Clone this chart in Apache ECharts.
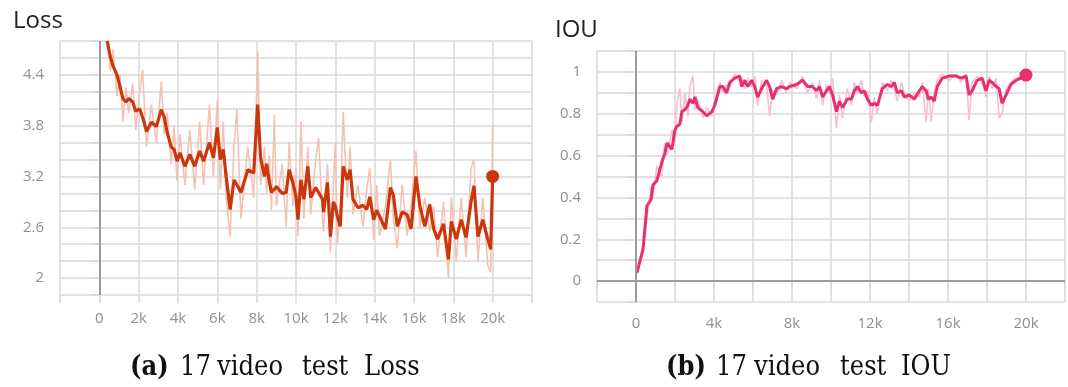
<!DOCTYPE html>
<html>
<head>
<meta charset="utf-8">
<script src="https://cdn.jsdelivr.net/npm/echarts@6/dist/echarts.min.js"></script>
<style>
  html, body { margin: 0; padding: 0; background: #fff; }
  #chart { width: 1068px; height: 387px; }
</style>
</head>
<body>
<div id="chart"></div>
<script>
// Loss curve: training steps, smoothed value and raw value
const lossSteps = [400, 550, 700, 900, 1050, 1200, 1350, 1500, 1700, 1850, 2050, 2200, 2400, 2650, 2900, 3150, 3300, 3450, 3650, 3800, 3950, 4100, 4350, 4600, 4850, 5100, 5300, 5600, 5800, 6000, 6150, 6300, 6450, 6650, 6850, 7000, 7200, 7550, 7850, 8050, 8200, 8400, 8500, 8650, 8750, 8900, 9000, 9300, 9500, 9650, 9850, 10000, 10100, 10250, 10400, 10600, 10750, 11000, 11150, 11350, 11400, 11600, 11750, 11900, 12000, 12100, 12250, 12400, 12600, 12750, 12900, 13150, 13400, 13600, 13750, 13950, 14100, 14250, 14550, 14800, 14950, 15150, 15400, 15650, 15850, 16100, 16300, 16550, 16800, 17000, 17200, 17500, 17750, 17900, 18150, 18400, 18650, 18900, 19050, 19250, 19500, 19750, 19900, 20000];
const lossSmooth = [4.80, 4.62, 4.50, 4.40, 4.26, 4.12, 4.08, 4.12, 4.08, 3.97, 4.00, 3.90, 3.73, 3.84, 3.79, 3.99, 3.90, 3.72, 3.55, 3.52, 3.38, 3.48, 3.32, 3.46, 3.32, 3.50, 3.38, 3.60, 3.42, 3.78, 3.40, 3.52, 3.20, 2.81, 3.16, 3.10, 3.01, 3.28, 3.24, 4.05, 3.42, 3.20, 3.35, 3.13, 3.01, 3.05, 3.08, 3.00, 3.01, 3.28, 3.12, 2.96, 2.69, 3.16, 2.93, 3.32, 2.95, 3.07, 3.01, 2.93, 2.78, 3.13, 2.49, 2.90, 2.85, 2.73, 2.61, 3.32, 3.16, 3.28, 2.93, 2.83, 2.86, 2.81, 2.96, 2.69, 2.80, 2.73, 2.58, 3.07, 2.98, 2.61, 2.78, 2.75, 2.58, 3.20, 2.85, 2.61, 2.87, 2.58, 2.46, 2.64, 2.22, 2.67, 2.46, 2.69, 2.48, 2.90, 3.09, 2.49, 2.69, 2.46, 2.34, 3.20];
const lossRaw = [5.00, 4.45, 4.70, 4.15, 4.40, 3.85, 4.25, 3.95, 4.30, 3.75, 4.20, 4.46, 3.55, 4.05, 3.60, 4.32, 3.70, 3.95, 3.35, 3.80, 3.15, 3.70, 3.10, 3.75, 3.05, 3.85, 3.10, 4.05, 3.20, 4.10, 3.05, 3.85, 2.95, 2.49, 3.55, 4.00, 2.70, 3.55, 2.95, 4.68, 3.10, 3.55, 3.00, 3.45, 2.80, 3.93, 2.85, 3.35, 2.60, 3.60, 2.85, 3.30, 2.50, 3.85, 2.70, 3.55, 2.75, 3.40, 3.65, 2.70, 2.55, 3.35, 2.30, 3.10, 3.60, 2.40, 2.80, 3.96, 2.95, 3.55, 2.75, 3.10, 2.60, 3.05, 3.30, 2.45, 3.10, 2.50, 2.85, 3.40, 2.70, 2.35, 3.10, 2.50, 2.85, 3.50, 2.60, 2.95, 2.55, 2.85, 2.25, 2.90, 2.00, 2.95, 2.20, 2.95, 2.25, 3.30, 3.40, 2.20, 2.95, 2.15, 2.07, 3.80];

// IOU curve: training steps, smoothed value and raw value
const iouSteps = [50, 360, 560, 770, 870, 1070, 1330, 1480, 1590, 1840, 1990, 2100, 2250, 2350, 2510, 2660, 2760, 2920, 3020, 3170, 3430, 3630, 3890, 4040, 4300, 4450, 4650, 4810, 5060, 5320, 5420, 5580, 5730, 5930, 6090, 6240, 6440, 6700, 6850, 7010, 7210, 7470, 7720, 7880, 8240, 8540, 8800, 9050, 9260, 9410, 9570, 9770, 9920, 10080, 10280, 10430, 10590, 10840, 11050, 11200, 11360, 11560, 11710, 11870, 12070, 12220, 12380, 12630, 12890, 13090, 13250, 13400, 13610, 13760, 14010, 14270, 14530, 14680, 14880, 14990, 15140, 15290, 15450, 15700, 16060, 16420, 16670, 16930, 17080, 17240, 17490, 17750, 17950, 18110, 18260, 18470, 18620, 18770, 18980, 19230, 19490, 19740, 20000];
const iouSmooth = [0.04, 0.15, 0.36, 0.39, 0.46, 0.48, 0.57, 0.61, 0.66, 0.63, 0.72, 0.74, 0.75, 0.81, 0.82, 0.84, 0.87, 0.85, 0.88, 0.83, 0.81, 0.79, 0.81, 0.84, 0.93, 0.93, 0.90, 0.95, 0.97, 0.98, 0.93, 0.96, 0.93, 0.96, 0.93, 0.88, 0.92, 0.96, 0.93, 0.87, 0.92, 0.93, 0.92, 0.93, 0.94, 0.96, 0.93, 0.93, 0.91, 0.93, 0.88, 0.91, 0.93, 0.89, 0.81, 0.86, 0.83, 0.87, 0.87, 0.91, 0.93, 0.90, 0.91, 0.87, 0.84, 0.85, 0.84, 0.92, 0.94, 0.93, 0.95, 0.90, 0.91, 0.88, 0.89, 0.87, 0.91, 0.93, 0.91, 0.87, 0.88, 0.86, 0.93, 0.97, 0.98, 0.98, 0.97, 0.98, 0.89, 0.91, 0.96, 0.97, 0.91, 0.96, 0.95, 0.93, 0.92, 0.85, 0.89, 0.94, 0.96, 0.97, 0.985];
const iouRaw = [0.03, 0.18, 0.30, 0.45, 0.40, 0.55, 0.50, 0.66, 0.60, 0.72, 0.66, 0.85, 0.92, 0.76, 0.90, 0.79, 0.93, 0.98, 0.82, 0.87, 0.78, 0.83, 0.79, 0.86, 0.95, 0.90, 0.94, 0.93, 0.99, 0.95, 0.97, 0.92, 0.97, 0.93, 0.98, 0.84, 0.96, 0.93, 0.79, 0.91, 0.89, 0.96, 0.90, 0.95, 0.92, 0.98, 0.90, 0.95, 0.87, 0.96, 0.84, 0.94, 0.90, 0.97, 0.73, 0.89, 0.78, 0.92, 0.84, 0.95, 0.90, 0.96, 0.88, 0.91, 0.76, 0.88, 0.80, 0.95, 0.91, 0.96, 0.92, 0.86, 0.95, 0.90, 0.86, 0.90, 0.88, 0.95, 0.76, 0.92, 0.76, 0.90, 0.96, 0.99, 0.96, 0.99, 0.95, 0.99, 0.77, 0.95, 0.98, 0.95, 0.88, 0.98, 0.92, 0.97, 0.78, 0.80, 0.92, 0.95, 0.97, 0.98, 0.99];

// Tick labels
const lossXLabels = ['0', '2k', '4k', '6k', '8k', '10k', '12k', '14k', '16k', '18k', '20k'];
const lossYLabels = ['2', '2.6', '3.2', '3.8', '4.4'];
const iouXLabels = ['0', '4k', '8k', '12k', '16k', '20k'];
const iouYLabels = ['0', '0.2', '0.4', '0.6', '0.8', '1'];

// Captions under each panel
const captionA = ['(a)', '17', 'video', 'test', 'Loss'];
const captionB = ['(b)', '17', 'video', 'test', 'IOU'];

const zip = (xs, ys) => xs.map((x, i) => [x, ys[i]]);
const stepText = v => (v === 0 ? '0' : (v / 1000) + 'k');
const numText = v => String(Math.round(v * 10) / 10);

const gridColor = '#d9d9d9';
const zeroColor = '#9c9c9c';
const labelColor = '#909090';
const uiFont = 'Open Sans';

function xAxisFor(gridIndex, labels, margin) {
  return {
    type: 'value', gridIndex, min: -2000, max: 22000, interval: 2000,
    axisLine: { show: false },
    axisTick: { show: true, length: 8, lineStyle: { color: gridColor, width: 1.5 } },
    splitLine: { show: true, lineStyle: { color: gridColor, width: 1.5 } },
    axisLabel: {
      color: labelColor, fontFamily: uiFont, fontSize: 15, margin,
      formatter: v => (labels.includes(stepText(v)) ? stepText(v) : '')
    }
  };
}

function yAxisFor(gridIndex, min, max, interval, labels) {
  return {
    type: 'value', gridIndex, min, max, interval,
    axisLine: { show: false },
    axisTick: { show: true, length: 8, lineStyle: { color: gridColor, width: 1.5 } },
    splitLine: { show: true, lineStyle: { color: gridColor, width: 1.5 } },
    axisLabel: {
      color: labelColor, fontFamily: uiFont, fontSize: 15, margin: 16,
      formatter: v => (labels.includes(numText(v)) ? numText(v) : '')
    }
  };
}

function captionWords(words, xs, y) {
  return words.map((w, i) => ({
    type: 'text', left: xs[i], top: y,
    style: {
      text: w, fill: '#111',
      font: (i === 0 ? '600 ' : '') + '27px "DejaVu Serif Condensed", "Liberation Serif", serif'
    }
  }));
}

const lossColor = '#cc360c';
const lossLight = '#f3c2b3';
const iouColor = '#e8316b';
const iouLight = '#f7bfd1';

const zeroLine = data => ({
  silent: true, symbol: 'none', animation: false,
  label: { show: false },
  lineStyle: { color: zeroColor, width: 2, type: 'solid' },
  data
});

const chart = echarts.init(document.getElementById('chart'), null, { renderer: 'canvas' });
chart.setOption({
  animation: false,
  backgroundColor: '#fff',
  title: [
    { text: 'Loss', left: 8, top: 4, textStyle: { fontFamily: uiFont, fontSize: 24, fontWeight: 'normal', color: '#222' } },
    { text: 'IOU', left: 550, top: 13, textStyle: { fontFamily: uiFont, fontSize: 24, fontWeight: 'normal', color: '#222' } }
  ],
  grid: [
    { left: 60, top: 41, width: 472, height: 254 },
    { left: 597, top: 51, width: 470, height: 251 }
  ],
  xAxis: [xAxisFor(0, lossXLabels, 16), xAxisFor(1, iouXLabels, 14)],
  yAxis: [
    yAxisFor(0, 1.8, 4.8, 0.2, lossYLabels),
    yAxisFor(1, -0.1, 1.1, 0.1, iouYLabels)
  ],
  series: [
    {
      name: 'loss raw', type: 'line', xAxisIndex: 0, yAxisIndex: 0,
      data: zip(lossSteps, lossRaw), showSymbol: false, silent: true, z: 2,
      lineStyle: { color: lossLight, width: 1.6 },
      markLine: zeroLine([{ xAxis: 0 }])
    },
    {
      name: 'loss', type: 'line', xAxisIndex: 0, yAxisIndex: 0,
      data: zip(lossSteps, lossSmooth), showSymbol: false, silent: true, z: 3,
      lineStyle: { color: lossColor, width: 3.2 }
    },
    {
      name: 'loss last', type: 'scatter', xAxisIndex: 0, yAxisIndex: 0,
      data: [[lossSteps[lossSteps.length - 1], lossSmooth[lossSmooth.length - 1]]],
      symbolSize: 13, itemStyle: { color: lossColor, opacity: 1 }, z: 4, silent: true
    },
    {
      name: 'iou raw', type: 'line', xAxisIndex: 1, yAxisIndex: 1,
      data: zip(iouSteps, iouRaw), showSymbol: false, silent: true, z: 2,
      lineStyle: { color: iouLight, width: 1.6 },
      markLine: zeroLine([{ xAxis: 0 }, { yAxis: 0 }])
    },
    {
      name: 'iou', type: 'line', xAxisIndex: 1, yAxisIndex: 1,
      data: zip(iouSteps, iouSmooth), showSymbol: false, silent: true, z: 3,
      lineStyle: { color: iouColor, width: 3 }
    },
    {
      name: 'iou last', type: 'scatter', xAxisIndex: 1, yAxisIndex: 1,
      data: [[iouSteps[iouSteps.length - 1], iouSmooth[iouSmooth.length - 1]]],
      symbolSize: 13, itemStyle: { color: iouColor, opacity: 1 }, z: 4, silent: true
    }
  ],
  graphic: [
    ...captionWords(captionA, [130, 180, 217, 302, 364], 354),
    ...captionWords(captionB, [666, 716, 754, 840, 901], 354)
  ]
});
</script>
</body>
</html>
